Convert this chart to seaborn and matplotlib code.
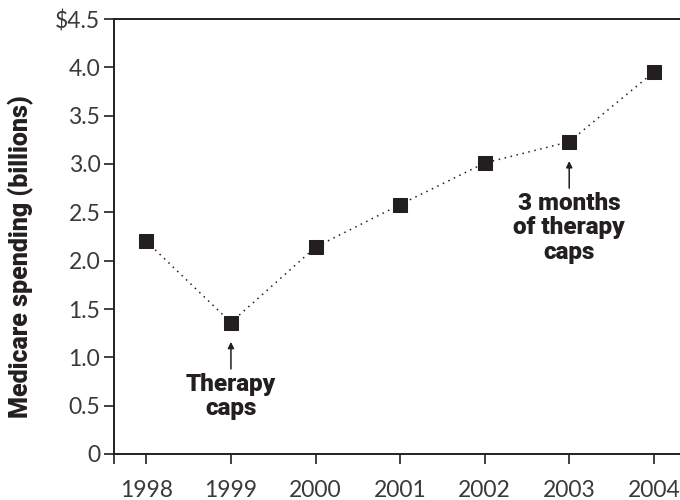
import numpy as np
import pandas as pd
import seaborn as sns
import matplotlib.pyplot as plt

# data
years = [1998, 1999, 2000, 2001, 2002, 2003, 2004]
spending = [2.20, 1.36, 2.14, 2.58, 3.01, 3.23, 3.95]
ytick_vals = [0, 0.5, 1.0, 1.5, 2.0, 2.5, 3.0, 3.5, 4.0, 4.5]
ytick_labels = ['0', '0.5', '1.0', '1.5', '2.0', '2.5', '3.0', '3.5', '4.0', '$4.5']
notes = [(1999, 'Therapy\ncaps'), (2003, '3 months\nof therapy\ncaps')]

df = pd.DataFrame({'year': years, 'spending': spending})

sns.set_theme(style='white')
plt.rcParams['font.family'] = ['Lato', 'DejaVu Sans']
ink = '#231f20'
heavy = ['Roboto', 'DejaVu Sans']

fig = plt.figure(figsize=(6.8, 5.0), dpi=100)
ax = fig.add_axes([0.168, 0.092, 0.832, 0.870])

sns.lineplot(data=df, x='year', y='spending', ax=ax, color=ink,
             linestyle=(0, (1, 3)), linewidth=1.1, marker='s', markersize=10,
             markeredgecolor=ink, markerfacecolor=ink)

ax.set_xlim(1997.62, 2004.31)
ax.set_ylim(0, 4.5)
ax.set_xticks(years)
ax.set_xticklabels([str(y) for y in years], fontsize=16.5, color='#3a3a3a')
ax.set_xticks([1997.62], minor=True)
ax.set_yticks(ytick_vals)
ax.set_yticklabels(ytick_labels, fontsize=16.5, color='#3a3a3a')
ax.tick_params(axis='both', which='both', direction='out', length=7, width=1.2,
               color=ink, bottom=True, left=True)
ax.tick_params(axis='x', pad=12)
ax.tick_params(axis='y', pad=3)

for side in ['left', 'bottom', 'top']:
    ax.spines[side].set_visible(True)
    ax.spines[side].set_color(ink)
    ax.spines[side].set_linewidth(1.4)
ax.spines['right'].set_visible(False)

ax.set_xlabel('')
ax.set_ylabel('Medicare spending (billions)', fontsize=18, fontweight='black',
              family=heavy, color=ink)
ax.yaxis.set_label_coords(-0.142, 0.453)

for yr, txt in notes:
    v = spending[years.index(yr)]
    ax.annotate('', xy=(yr, v - 0.20), xytext=(yr, v - 0.48),
                arrowprops=dict(arrowstyle='-|>', color=ink, lw=1.1,
                                mutation_scale=9, shrinkA=0, shrinkB=0))
    ax.text(yr, v - 0.52, txt, ha='center', va='top', fontsize=17.5,
            fontweight='black', family=heavy, color=ink, linespacing=1.08)

fig.savefig('out.png', dpi=100)
